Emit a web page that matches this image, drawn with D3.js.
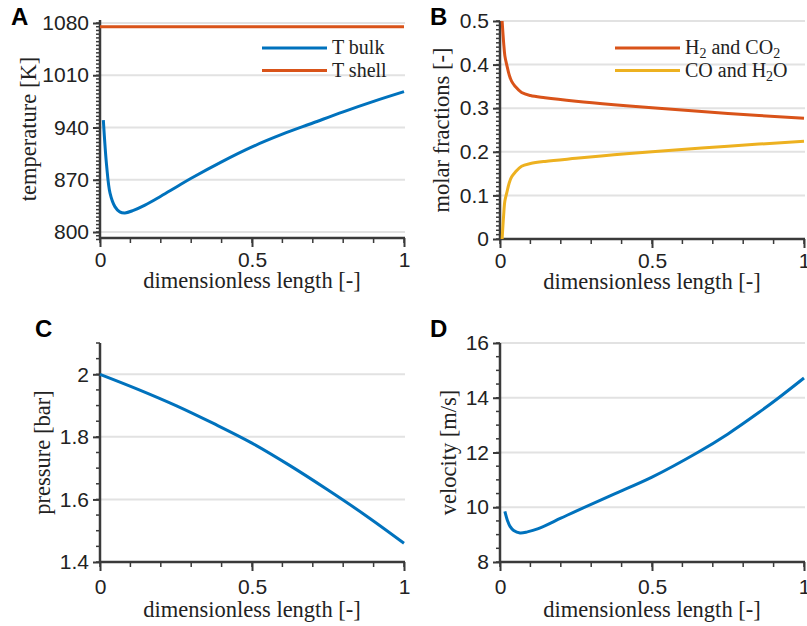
<!DOCTYPE html>
<html>
<head>
<meta charset="UTF-8">
<script src="https://d3js.org/d3.v7.min.js"></script>
<style>
body{
	margin: 0;
	background: white;
}
.tick text{
	font-family: "Liberation Sans", Arial, sans-serif;
}
</style>
</head>
<body>
<svg width="807" height="626"></svg>
<script>
// panel A: temperature
const xBulk = [0.011, 0.022, 0.033, 0.049, 0.065, 0.082, 0.11, 0.148, 0.2, 0.25, 0.3, 0.4, 0.5, 0.6, 0.7, 0.8, 0.9, 1.0]
const tBulk = [950, 888, 852, 834, 827, 825.5, 829, 836, 848, 860, 872, 894, 914, 931, 946, 961, 975, 988]
const xShell = [0, 1]
const tShell = [1075, 1075]

// panel B: molar fractions
const xFrac = [0.007, 0.012, 0.016, 0.022, 0.03, 0.038, 0.05, 0.071, 0.1, 0.148, 0.25, 0.375, 0.5, 0.75, 1]
const fracH2 = [0.5, 0.45, 0.42, 0.40, 0.377, 0.362, 0.35, 0.336, 0.329, 0.324, 0.316, 0.308, 0.301, 0.288, 0.277]
const fracCO = [0.0, 0.055, 0.087, 0.105, 0.128, 0.142, 0.153, 0.167, 0.173, 0.178, 0.185, 0.193, 0.200, 0.213, 0.224]

// panel C: pressure
const xPress = [0, 0.125, 0.25, 0.375, 0.5, 0.625, 0.75, 0.875, 1]
const press = [2.0, 1.952, 1.9, 1.842, 1.78, 1.708, 1.63, 1.548, 1.46]

// panel D: velocity
const xVel = [0.016, 0.025, 0.033, 0.045, 0.066, 0.09, 0.126, 0.2, 0.254, 0.375, 0.5, 0.65, 0.75, 0.85, 0.917, 1]
const vel = [9.85, 9.5, 9.3, 9.15, 9.06, 9.1, 9.22, 9.6, 9.88, 10.48, 11.1, 12.0, 12.68, 13.45, 14.0, 14.72]

const xTicks = [0, 0.5, 1]
const xTickLabels = ["0", "0.5", "1"]

const blue = "#0072BD", orange = "#D95319", yellow = "#EDB120"
const axisColor = "#3a3a3a"

const svg = d3.select("svg")

function zip(xs, ys){
	return xs.map(function(x, i){ return [x, ys[i]] })
}

function panel(p){
	let x = d3.scaleLinear().domain([0, 1]).range([p.left, p.left + 304])
	let y = d3.scaleLinear().domain(p.ydomain).range([p.bottom, p.top])
	let g = svg.append("g")

	// grid
	g.selectAll(".grid")
		.data(p.yticks.filter(function(t){ return y(t) < p.bottom - 2 }))
		.join("line")
		.attr("x1", p.left).attr("x2", p.left + 305)
		.attr("y1", function(d){ return y(d) }).attr("y2", function(d){ return y(d) })
		.attr("stroke", "#e2e2e2").attr("stroke-width", 2)

	// minor ticks
	let yMinor = d3.range(p.ydomain[0], p.ydomain[1] + 1e-9, p.yminor)
		.map(function(v){ return Math.round(v / p.yminor) * p.yminor })
	g.selectAll(".yminor").data(yMinor).join("line")
		.attr("x1", p.left - 4).attr("x2", p.left)
		.attr("y1", function(d){ return y(d) }).attr("y2", function(d){ return y(d) })
		.attr("stroke", axisColor).attr("stroke-width", 1.5)
	g.selectAll(".xminor").data(d3.range(0, 1.0001, 0.1)).join("line")
		.attr("x1", function(d){ return x(d) }).attr("x2", function(d){ return x(d) })
		.attr("y1", p.bottom).attr("y2", p.bottom + 5)
		.attr("stroke", axisColor).attr("stroke-width", 1.5)

	// axes
	let yAxis = d3.axisLeft(y).tickValues(p.yticks).tickSize(7).tickPadding(4).tickFormat(d3.format(p.yfmt))
	let xAxis = d3.axisBottom(x).tickValues(xTicks).tickSize(9).tickPadding(3)
		.tickFormat(function(d, i){ return xTickLabels[i] })
	let ya = g.append("g").attr("transform", "translate(" + p.left + ",0)").call(yAxis)
	let xa = g.append("g").attr("transform", "translate(0," + p.bottom + ")").call(xAxis)
	;[ya, xa].forEach(function(a){
		a.select(".domain").attr("stroke", axisColor).attr("stroke-width", 2.5)
			.attr("d", a === ya ? "M0," + (p.bottom + 1) + "V" + p.top : "M" + (p.left - 1) + ",0H" + (p.left + 305))
		a.selectAll(".tick line").attr("stroke", axisColor).attr("stroke-width", 2)
		a.selectAll(".tick text").attr("fill", "#222").style("font-size", "21px")
	})
	xa.selectAll(".tick text").attr("y", 0).attr("dy", p.tickBase)

	// labels
	g.append("text")
		.attr("x", p.left + 152).attr("y", p.bottom + p.labelBase)
		.attr("text-anchor", "middle")
		.style("font-family", "'Liberation Serif', serif").style("font-size", "22.5px").attr("fill", "#222")
		.text("dimensionless length [-]")
	g.append("text")
		.attr("transform", "translate(" + p.ylabelX + "," + ((p.top + p.bottom) / 2) + ") rotate(-90)")
		.attr("text-anchor", "middle")
		.style("font-family", "'Liberation Serif', serif").style("font-size", "22.5px").attr("fill", "#222")
		.text(p.ylabel)
	g.append("text")
		.attr("x", p.letterX).attr("y", p.letterY)
		.style("font-family", "'Liberation Sans', Arial, sans-serif").style("font-weight", "bold").style("font-size", "24px")
		.text(p.letter)

	let line = d3.line().x(function(d){ return x(d[0]) }).y(function(d){ return y(d[1]) }).curve(d3.curveCatmullRom.alpha(0.5))
	p.series.forEach(function(s){
		g.append("path").datum(s.data)
			.attr("d", line)
			.attr("fill", "none").attr("stroke", s.color).attr("stroke-width", 3)
	})

	// legend
	if (p.legend){
		p.legend.forEach(function(l, i){
			let ly = 48 + i * 22.5
			g.append("line")
				.attr("x1", p.legendX).attr("x2", p.legendX + 65)
				.attr("y1", ly).attr("y2", ly)
				.attr("stroke", l.color).attr("stroke-width", 3)
			let t = g.append("text")
				.attr("x", p.legendX + 70).attr("y", ly + 6)
				.style("font-family", "'Liberation Serif', serif").style("font-size", "20px").attr("fill", "#222")
			let shift = 0
			l.parts.forEach(function(part){
				if (part.sub){
					t.append("tspan").attr("dy", 4 - shift).style("font-size", "14px").text(part.sub)
					shift = 4
				} else {
					t.append("tspan").attr("dy", -shift).text(part.t)
					shift = 0
				}
			})
		})
	}
}

panel({
	letter: "A", letterX: 11, letterY: 25,
	left: 100, top: 20, bottom: 238, tickBase: 29, labelBase: 50,
	ydomain: [792, 1084], yticks: [800, 870, 940, 1010, 1080], yminor: 5, yfmt: "d",
	ylabel: "temperature [K]", ylabelX: 36,
	series: [{data: zip(xShell, tShell), color: orange}, {data: zip(xBulk, tBulk), color: blue}],
	legendX: 262,
	legend: [{color: blue, parts: [{t: "T bulk"}]}, {color: orange, parts: [{t: "T shell"}]}]
})

panel({
	letter: "B", letterX: 430, letterY: 25,
	left: 500, top: 21, bottom: 239, tickBase: 29, labelBase: 50,
	ydomain: [0, 0.5], yticks: [0, 0.1, 0.2, 0.3, 0.4, 0.5], yminor: 0.01, yfmt: "",
	ylabel: "molar fractions [-]", ylabelX: 449,
	series: [{data: zip(xFrac, fracH2), color: orange}, {data: zip(xFrac, fracCO), color: yellow}],
	legendX: 615,
	legend: [
		{color: orange, parts: [{t: "H"}, {sub: "2"}, {t: " and CO"}, {sub: "2"}]},
		{color: yellow, parts: [{t: "CO and H"}, {sub: "2"}, {t: "O"}]}
	]
})

panel({
	letter: "C", letterX: 35, letterY: 337,
	left: 100, top: 343, bottom: 562, tickBase: 32, labelBase: 55,
	ydomain: [1.4, 2.1], yticks: [1.4, 1.6, 1.8, 2], yminor: 0.05, yfmt: "",
	ylabel: "pressure [bar]", ylabelX: 50,
	series: [{data: zip(xPress, press), color: blue}]
})

panel({
	letter: "D", letterX: 430, letterY: 337,
	left: 500, top: 343, bottom: 562, tickBase: 32, labelBase: 55,
	ydomain: [8, 16], yticks: [8, 10, 12, 14, 16], yminor: 0.5, yfmt: "d",
	ylabel: "velocity [m/s]", ylabelX: 456,
	series: [{data: zip(xVel, vel), color: blue}]
})
</script>
</body>
</html>
